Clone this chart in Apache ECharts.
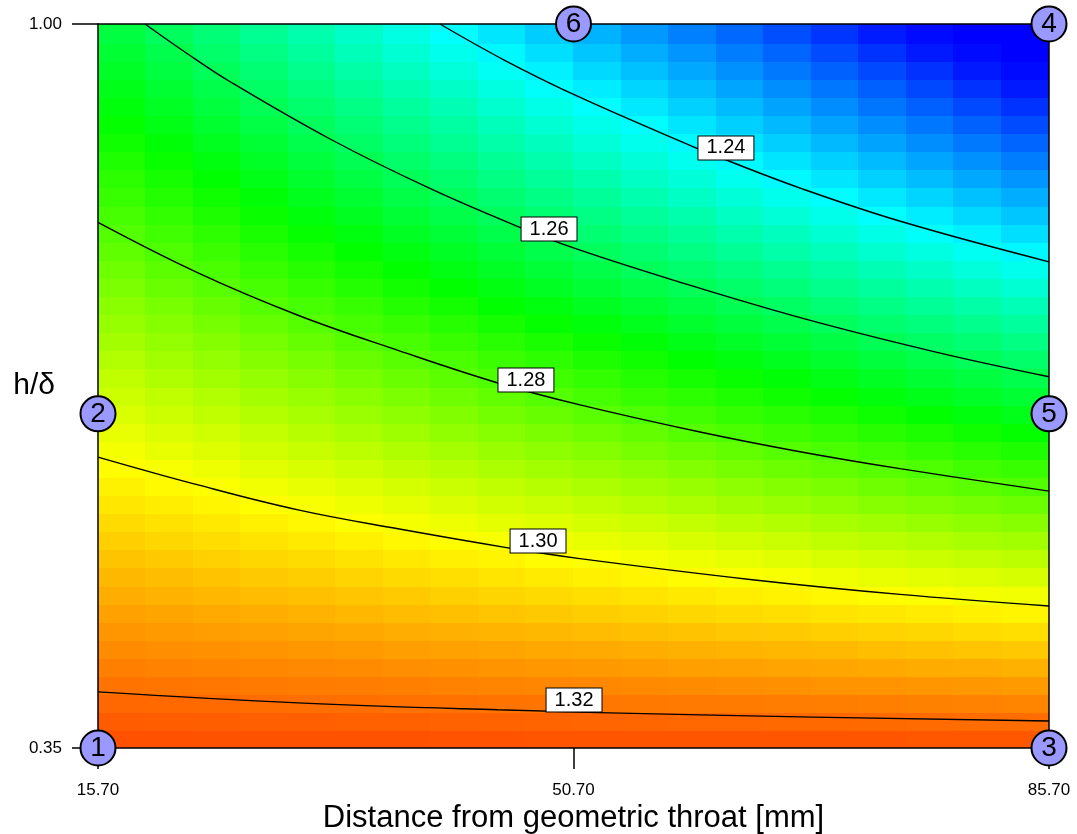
<!DOCTYPE html>
<html>
<head>
<meta charset="utf-8">
<script src="https://cdn.jsdelivr.net/npm/echarts@6/dist/echarts.min.js"></script>
<style>
  html, body { margin: 0; padding: 0; background: #fff; }
  #chart { width: 1077px; height: 834px; }
</style>
</head>
<body>
<div id="chart"></div>
<script>
// ---------- data ----------
const xTicks = [15.7, 50.7, 85.7];
const hTicks = [0.35, 1.0];

// centres of the colour-field cells (distance [mm] and h/delta)
const fieldX = [17.45, 20.95, 24.45, 27.95, 31.45, 34.95, 38.45, 41.95, 45.45, 48.95,
                52.45, 55.95, 59.45, 62.95, 66.45, 69.95, 73.45, 76.95, 80.45, 83.95];
const fieldH = [0.358125, 0.374375, 0.390625, 0.406875, 0.423125, 0.439375, 0.455625, 0.471875,
                0.488125, 0.504375, 0.520625, 0.536875, 0.553125, 0.569375, 0.585625, 0.601875,
                0.618125, 0.634375, 0.650625, 0.666875, 0.683125, 0.699375, 0.715625, 0.731875,
                0.748125, 0.764375, 0.780625, 0.796875, 0.813125, 0.829375, 0.845625, 0.861875,
                0.878125, 0.894375, 0.910625, 0.926875, 0.943125, 0.959375, 0.975625, 0.991875];
// estimated response value per cell, rows from bottom (h=0.35) to top (h=1.00)
const fieldRows = [
 [1.3239,1.3239,1.3238,1.3238,1.3238,1.3237,1.3237,1.3236,1.3236,1.3235,1.3235,1.3235,1.3234,1.3234,1.3233,1.3233,1.3233,1.3232,1.3232,1.3231],
 [1.3223,1.3222,1.3221,1.3220,1.3219,1.3217,1.3216,1.3215,1.3214,1.3212,1.3211,1.3210,1.3209,1.3208,1.3206,1.3205,1.3204,1.3203,1.3202,1.3200],
 [1.3208,1.3206,1.3204,1.3202,1.3199,1.3197,1.3195,1.3193,1.3191,1.3189,1.3187,1.3185,1.3183,1.3181,1.3179,1.3177,1.3175,1.3173,1.3171,1.3169],
 [1.3192,1.3189,1.3186,1.3183,1.3180,1.3178,1.3175,1.3172,1.3169,1.3166,1.3164,1.3161,1.3158,1.3155,1.3152,1.3149,1.3147,1.3144,1.3141,1.3138],
 [1.3176,1.3172,1.3169,1.3165,1.3162,1.3158,1.3154,1.3151,1.3147,1.3143,1.3140,1.3136,1.3132,1.3129,1.3125,1.3122,1.3118,1.3114,1.3111,1.3107],
 [1.3160,1.3156,1.3151,1.3147,1.3143,1.3138,1.3134,1.3129,1.3125,1.3120,1.3116,1.3111,1.3107,1.3103,1.3098,1.3094,1.3089,1.3085,1.3080,1.3076],
 [1.3145,1.3139,1.3134,1.3129,1.3124,1.3118,1.3113,1.3108,1.3103,1.3097,1.3092,1.3087,1.3082,1.3076,1.3071,1.3066,1.3061,1.3055,1.3050,1.3045],
 [1.3129,1.3123,1.3117,1.3111,1.3105,1.3098,1.3092,1.3086,1.3080,1.3074,1.3068,1.3062,1.3056,1.3050,1.3044,1.3038,1.3032,1.3026,1.3020,1.3014],
 [1.3113,1.3106,1.3099,1.3092,1.3086,1.3079,1.3072,1.3065,1.3058,1.3051,1.3044,1.3037,1.3031,1.3024,1.3017,1.3010,1.3003,1.2996,1.2989,1.2983],
 [1.3097,1.3090,1.3082,1.3074,1.3067,1.3059,1.3051,1.3044,1.3036,1.3028,1.3020,1.3013,1.3005,1.2997,1.2990,1.2982,1.2974,1.2967,1.2959,1.2951],
 [1.3081,1.3073,1.3064,1.3056,1.3048,1.3039,1.3031,1.3022,1.3014,1.3005,1.2997,1.2988,1.2980,1.2971,1.2963,1.2954,1.2946,1.2937,1.2929,1.2920],
 [1.3066,1.3056,1.3047,1.3038,1.3029,1.3019,1.3010,1.3001,1.2991,1.2982,1.2973,1.2964,1.2954,1.2945,1.2936,1.2926,1.2917,1.2908,1.2898,1.2889],
 [1.3050,1.3040,1.3030,1.3020,1.3010,1.2999,1.2989,1.2979,1.2969,1.2959,1.2949,1.2939,1.2929,1.2919,1.2909,1.2898,1.2888,1.2878,1.2868,1.2858],
 [1.3034,1.3023,1.3012,1.3001,1.2991,1.2980,1.2969,1.2958,1.2947,1.2936,1.2925,1.2914,1.2903,1.2892,1.2881,1.2871,1.2860,1.2849,1.2838,1.2827],
 [1.3018,1.3007,1.2995,1.2983,1.2972,1.2960,1.2948,1.2936,1.2925,1.2913,1.2901,1.2890,1.2878,1.2866,1.2854,1.2843,1.2831,1.2819,1.2808,1.2796],
 [1.3003,1.2990,1.2978,1.2965,1.2953,1.2940,1.2927,1.2915,1.2902,1.2890,1.2877,1.2865,1.2852,1.2840,1.2827,1.2815,1.2802,1.2790,1.2777,1.2765],
 [1.2987,1.2973,1.2960,1.2947,1.2934,1.2920,1.2907,1.2894,1.2880,1.2867,1.2854,1.2840,1.2827,1.2814,1.2800,1.2787,1.2774,1.2760,1.2747,1.2734],
 [1.2971,1.2957,1.2943,1.2929,1.2915,1.2900,1.2886,1.2872,1.2858,1.2844,1.2830,1.2816,1.2801,1.2787,1.2773,1.2759,1.2745,1.2731,1.2717,1.2703],
 [1.2955,1.2940,1.2925,1.2910,1.2896,1.2881,1.2866,1.2851,1.2836,1.2821,1.2806,1.2791,1.2776,1.2761,1.2746,1.2731,1.2716,1.2701,1.2686,1.2671],
 [1.2940,1.2924,1.2908,1.2892,1.2877,1.2861,1.2845,1.2829,1.2814,1.2798,1.2782,1.2766,1.2751,1.2735,1.2719,1.2703,1.2688,1.2672,1.2656,1.2640],
 [1.2924,1.2907,1.2891,1.2874,1.2858,1.2841,1.2824,1.2808,1.2791,1.2775,1.2758,1.2742,1.2725,1.2709,1.2692,1.2675,1.2659,1.2642,1.2626,1.2609],
 [1.2908,1.2891,1.2873,1.2856,1.2839,1.2821,1.2804,1.2786,1.2769,1.2752,1.2734,1.2717,1.2700,1.2682,1.2665,1.2648,1.2630,1.2613,1.2595,1.2578],
 [1.2892,1.2874,1.2856,1.2838,1.2820,1.2801,1.2783,1.2765,1.2747,1.2729,1.2710,1.2692,1.2674,1.2656,1.2638,1.2620,1.2601,1.2583,1.2565,1.2547],
 [1.2876,1.2857,1.2838,1.2820,1.2801,1.2782,1.2763,1.2744,1.2725,1.2706,1.2687,1.2668,1.2649,1.2630,1.2611,1.2592,1.2573,1.2554,1.2535,1.2516],
 [1.2861,1.2841,1.2821,1.2801,1.2782,1.2762,1.2742,1.2722,1.2702,1.2683,1.2663,1.2643,1.2623,1.2603,1.2584,1.2564,1.2544,1.2524,1.2505,1.2485],
 [1.2845,1.2824,1.2804,1.2783,1.2763,1.2742,1.2721,1.2701,1.2680,1.2660,1.2639,1.2618,1.2598,1.2577,1.2557,1.2536,1.2515,1.2495,1.2474,1.2454],
 [1.2829,1.2808,1.2786,1.2765,1.2744,1.2722,1.2701,1.2679,1.2658,1.2637,1.2615,1.2594,1.2572,1.2551,1.2530,1.2508,1.2487,1.2465,1.2444,1.2422],
 [1.2813,1.2791,1.2769,1.2747,1.2725,1.2702,1.2680,1.2658,1.2636,1.2613,1.2591,1.2569,1.2547,1.2525,1.2502,1.2480,1.2458,1.2436,1.2414,1.2391],
 [1.2798,1.2775,1.2752,1.2729,1.2706,1.2683,1.2660,1.2636,1.2613,1.2590,1.2567,1.2544,1.2521,1.2498,1.2475,1.2452,1.2429,1.2406,1.2383,1.2360],
 [1.2782,1.2758,1.2734,1.2710,1.2687,1.2663,1.2639,1.2615,1.2591,1.2567,1.2544,1.2520,1.2496,1.2472,1.2448,1.2424,1.2401,1.2377,1.2353,1.2329],
 [1.2766,1.2741,1.2717,1.2692,1.2668,1.2643,1.2618,1.2594,1.2569,1.2544,1.2520,1.2495,1.2470,1.2446,1.2421,1.2397,1.2372,1.2347,1.2323,1.2298],
 [1.2750,1.2725,1.2699,1.2674,1.2649,1.2623,1.2598,1.2572,1.2547,1.2521,1.2496,1.2470,1.2445,1.2420,1.2394,1.2369,1.2343,1.2318,1.2292,1.2267],
 [1.2735,1.2708,1.2682,1.2656,1.2630,1.2603,1.2577,1.2551,1.2525,1.2498,1.2472,1.2446,1.2420,1.2393,1.2367,1.2341,1.2315,1.2288,1.2262,1.2236],
 [1.2719,1.2692,1.2665,1.2638,1.2611,1.2583,1.2556,1.2529,1.2502,1.2475,1.2448,1.2421,1.2394,1.2367,1.2340,1.2313,1.2286,1.2259,1.2232,1.2205],
 [1.2703,1.2675,1.2647,1.2619,1.2592,1.2564,1.2536,1.2508,1.2480,1.2452,1.2424,1.2397,1.2369,1.2341,1.2313,1.2285,1.2257,1.2229,1.2201,1.2174],
 [1.2687,1.2659,1.2630,1.2601,1.2573,1.2544,1.2515,1.2487,1.2458,1.2429,1.2401,1.2372,1.2343,1.2315,1.2286,1.2257,1.2228,1.2200,1.2171,1.2142],
 [1.2671,1.2642,1.2613,1.2583,1.2554,1.2524,1.2495,1.2465,1.2436,1.2406,1.2377,1.2347,1.2318,1.2288,1.2259,1.2229,1.2200,1.2170,1.2141,1.2111],
 [1.2656,1.2625,1.2595,1.2565,1.2535,1.2504,1.2474,1.2444,1.2413,1.2383,1.2353,1.2323,1.2292,1.2262,1.2232,1.2201,1.2171,1.2141,1.2111,1.2080],
 [1.2640,1.2609,1.2578,1.2547,1.2516,1.2484,1.2453,1.2422,1.2391,1.2360,1.2329,1.2298,1.2267,1.2236,1.2205,1.2174,1.2142,1.2111,1.2080,1.2049],
 [1.2624,1.2592,1.2560,1.2528,1.2497,1.2465,1.2433,1.2401,1.2369,1.2337,1.2305,1.2273,1.2241,1.2209,1.2178,1.2146,1.2114,1.2082,1.2050,1.2018]
];

// contour lines: [distance, h/delta]
const contour124 = [[40.87,1.0],[45.7,0.967],[51.03,0.9350],[59.79,0.8884],[61.70,0.8790],[67.59,0.8518],[74.95,0.8222],[85.7,0.7865]];
const contour126 = [[19.16,1.0],[22.2,0.974],[25.49,0.9477],[32.85,0.8963],[40.21,0.8519],[46.84,0.8170],[50.81,0.7985],[57.80,0.7710],[67.59,0.7357],[77.46,0.7052],[85.7,0.6833]];
const contour128 = [[15.7,0.8218],[23.06,0.7765],[30.42,0.7385],[37.78,0.7070],[45.14,0.6777],[51.03,0.6585],[60.01,0.6337],[67.37,0.6160],[74.73,0.6008],[85.7,0.5806]];
const contour130 = [[15.7,0.6112],[23.06,0.5862],[30.42,0.5638],[37.78,0.5468],[45.88,0.5297],[51.03,0.5202],[63.69,0.5013],[74.73,0.4879],[85.7,0.4775]];
const contour132 = [[15.7,0.4004],[30.42,0.3905],[45.14,0.3843],[60.01,0.3797],[85.7,0.3742]];

// contour labels
const labelText = ['1.24', '1.26', '1.28', '1.30', '1.32'];
const labelX = [61.92, 48.90, 47.20, 48.09, 50.74];
const labelH = [0.8887, 0.8159, 0.6803, 0.5358, 0.3930];

// design points
const pointName = ['1', '2', '3', '4', '5', '6'];
const pointX = [15.7, 15.7, 85.7, 85.7, 85.7, 50.7];
const pointH = [0.35, 0.65, 0.35, 1.0, 0.65, 1.0];

// ---------- styling ----------
const FONT = '"Liberation Sans", Arial, Helvetica, sans-serif';
const CELL_W = 3.5;      // width of a colour cell in axis units
const CELL_H = 0.01625;  // height of a colour cell in axis units
// colour ramp, evenly spaced every 0.005 from 1.190 to 1.340
const RAMP = ['#0000ff', '#0000ff', '#0000ff', '#0000ff', '#0010ff', '#0038ff', '#0060ff', '#0087ff',
              '#00afff', '#00d7ff', '#00ffff', '#00ffd5', '#00ffaa', '#00ff80', '#00ff55', '#00ff2b',
              '#00ff00', '#2bff00', '#55ff00', '#80ff00', '#aaff00', '#d5ff00', '#ffff00', '#ffdb00',
              '#ffb600', '#ff9200', '#ff6d00', '#ff4900', '#ff2400', '#ff0000', '#ff0000'];

const fieldData = [];
fieldRows.forEach(function (row, j) {
  row.forEach(function (v, i) {
    fieldData.push([fieldX[i], fieldH[j], v]);
  });
});

function renderCell(params, api) {
  const x = api.value(0), y = api.value(1);
  const a = api.coord([x - CELL_W / 2, y + CELL_H / 2]);
  const b = api.coord([x + CELL_W / 2, y - CELL_H / 2]);
  const x0 = Math.floor(a[0]), y0 = Math.floor(a[1]);
  return {
    type: 'rect',
    shape: { x: x0, y: y0, width: Math.ceil(b[0]) - x0 + 1, height: Math.ceil(b[1]) - y0 + 1 },
    style: { fill: api.visual('color') }
  };
}

function contourSeries(data) {
  return {
    type: 'line', data: data, smooth: 0.4, showSymbol: false, symbol: 'none',
    lineStyle: { color: '#000', width: 1.4 }, z: 5, silent: true, clip: true
  };
}

const labelData = labelText.map(function (t, k) { return { name: t, value: [labelX[k], labelH[k]] }; });
const pointData = pointName.map(function (t, k) { return { name: t, value: [pointX[k], pointH[k]] }; });

const chart = echarts.init(document.getElementById('chart'), null, { renderer: 'canvas' });
chart.setOption({
  backgroundColor: '#fff',
  animation: false,
  textStyle: { fontFamily: FONT },
  grid: { left: 98, right: 28, top: 24, bottom: 86, containLabel: false, outerBoundsMode: 'none' },
  visualMap: {
    show: false, seriesIndex: 0, dimension: 2, min: 1.19, max: 1.34,
    inRange: { color: RAMP }
  },
  xAxis: [{
    type: 'value', min: 15.7, max: 85.7, position: 'bottom', z: 10,
    axisLine: { show: true, onZero: false, lineStyle: { color: '#000', width: 1.5 } },
    axisTick: { show: true, customValues: xTicks, length: 21, inside: false, lineStyle: { color: '#000', width: 1.5 } },
    axisLabel: { customValues: xTicks, formatter: function (v) { return v.toFixed(2); }, fontSize: 17, color: '#000', margin: 34, fontFamily: FONT },
    splitLine: { show: false },
    name: 'Distance from geometric throat [mm]', nameLocation: 'middle', nameGap: 55, nameMoveOverlap: false,
    nameTextStyle: { fontSize: 31, color: '#000', fontFamily: FONT }
  }, {
    type: 'value', min: 15.7, max: 85.7, position: 'top', z: 10,
    axisLine: { show: true, onZero: false, lineStyle: { color: '#000', width: 1.5 } },
    axisTick: { show: false }, axisLabel: { show: false }, splitLine: { show: false }
  }],
  yAxis: [{
    type: 'value', min: 0.35, max: 1.0, position: 'left', z: 10,
    axisLine: { show: true, onZero: false, lineStyle: { color: '#000', width: 1.5 } },
    axisTick: { show: true, customValues: hTicks, length: 26, inside: false, lineStyle: { color: '#000', width: 1.5 } },
    axisLabel: { customValues: hTicks, formatter: function (v) { return v.toFixed(2); }, fontSize: 17, color: '#000', margin: 36, fontFamily: FONT },
    splitLine: { show: false },
    name: 'h/δ', nameLocation: 'middle', nameRotate: 0, nameGap: 43, nameMoveOverlap: false,
    nameTextStyle: { fontSize: 30, color: '#000', fontFamily: FONT, padding: [8, 0, 0, 0] }
  }, {
    type: 'value', min: 0.35, max: 1.0, position: 'right', z: 10,
    axisLine: { show: true, onZero: false, lineStyle: { color: '#000', width: 1.5 } },
    axisTick: { show: false }, axisLabel: { show: false }, splitLine: { show: false }
  }],
  series: [
    {
      type: 'custom', renderItem: renderCell, data: fieldData, encode: { x: 0, y: 1 },
      clip: true, z: 1, silent: true
    },
    contourSeries(contour124),
    contourSeries(contour126),
    contourSeries(contour128),
    contourSeries(contour130),
    contourSeries(contour132),
    {
      type: 'scatter', data: labelData, symbolSize: 0, z: 15, silent: true, clip: false,
      itemStyle: { color: '#000', opacity: 1 },
      label: {
        show: true, position: 'inside', formatter: '{b}', color: '#000', fontSize: 20, fontFamily: FONT,
        backgroundColor: '#fff', borderColor: '#000', borderWidth: 1, padding: [2, 8, 1, 8], lineHeight: 20,
        opacity: 1
      }
    },
    {
      type: 'scatter', data: pointData, symbol: 'circle', symbolSize: 35, z: 20, clip: false, silent: true,
      itemStyle: { color: '#9999ff', borderColor: '#000', borderWidth: 2, opacity: 1 },
      label: { show: true, position: 'inside', formatter: '{b}', color: '#000', fontSize: 28, fontFamily: FONT }
    }
  ]
});
</script>
</body>
</html>
